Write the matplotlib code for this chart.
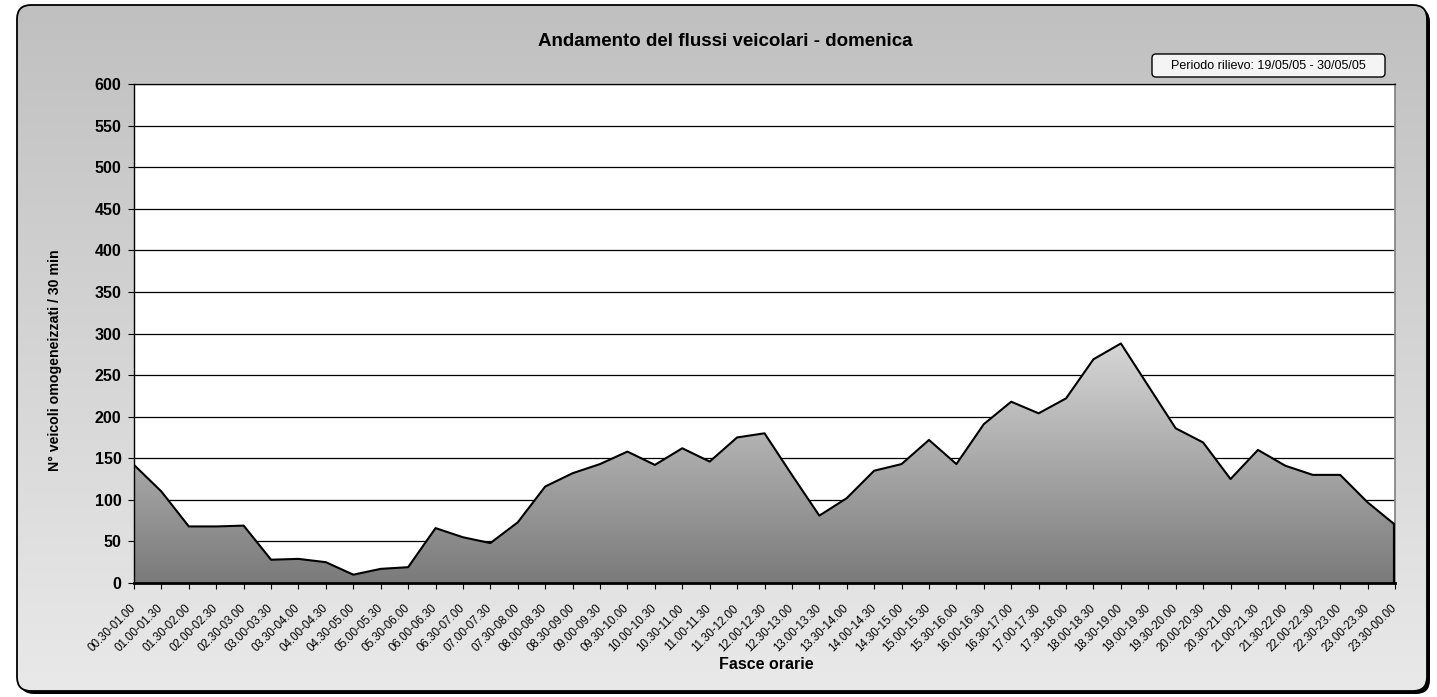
import numpy as np
import matplotlib
matplotlib.use("Agg")
import matplotlib.pyplot as plt
import matplotlib.transforms as mtransforms
from matplotlib.patches import FancyBboxPatch, Polygon
from matplotlib.colors import LinearSegmentedColormap

# data
fasce = ['00.30-01.00', '01.00-01.30', '01.30-02.00', '02.00-02.30', '02.30-03.00',
         '03.00-03.30', '03.30-04.00', '04.00-04.30', '04.30-05.00', '05.00-05.30',
         '05.30-06.00', '06.00-06.30', '06.30-07.00', '07.00-07.30', '07.30-08.00',
         '08.00-08.30', '08.30-09.00', '09.00-09.30', '09.30-10.00', '10.00-10.30',
         '10.30-11.00', '11.00-11.30', '11.30-12.00', '12.00-12.30', '12.30-13.00',
         '13.00-13.30', '13.30-14.00', '14.00-14.30', '14.30-15.00', '15.00-15.30',
         '15.30-16.00', '16.00-16.30', '16.30-17.00', '17.00-17.30', '17.30-18.00',
         '18.00-18.30', '18.30-19.00', '19.00-19.30', '19.30-20.00', '20.00-20.30',
         '20.30-21.00', '21.00-21.30', '21.30-22.00', '22.00-22.30', '22.30-23.00',
         '23.00-23.30', '23.30-00.00']
veicoli = [142, 110, 68, 68, 69, 28, 29, 25, 10, 17,
           19, 66, 55, 48, 73, 116, 132, 143, 158, 142,
           162, 146, 175, 180, 130, 81, 102, 135, 143, 172,
           143, 191, 218, 204, 222, 269, 288, 237, 186, 169,
           125, 160, 141, 130, 130, 97, 70]
y_ticks = list(range(0, 601, 50))
titolo = 'Andamento del flussi veicolari - domenica'
periodo = 'Periodo rilievo: 19/05/05 - 30/05/05'
totale = 'Traffico totale giornaliero\n5415 veicoli reali / g'

plt.rcParams['font.family'] = ['Liberation Sans', 'DejaVu Sans']

W, H = 1437, 697
fig = plt.figure(figsize=(W / 100, H / 100), dpi=100)
fig.patch.set_facecolor('white')

# background frame: shadow, gradient, border (pixel coords)
bg = fig.add_axes([0, 0, 1, 1], zorder=-10)
bg.set_xlim(0, W)
bg.set_ylim(H, 0)
bg.axis('off')
bg.add_patch(FancyBboxPatch((20, 8), 1410, 686, boxstyle='round,pad=0,rounding_size=14',
                            fc='black', ec='none'))
grad = np.linspace(0, 1, 256).reshape(-1, 1)
cm_bg = LinearSegmentedColormap.from_list('bg', ['#c0c0c0', '#e9e9e9'])
im = bg.imshow(grad, cmap=cm_bg, extent=[17, 1427, 691, 5], aspect='auto', zorder=2)
clip = FancyBboxPatch((17, 5), 1410, 686, boxstyle='round,pad=0,rounding_size=14',
                      fc='none', ec='none', transform=bg.transData)
bg.add_patch(clip)
im.set_clip_path(clip)
bg.add_patch(FancyBboxPatch((17, 5), 1410, 686, boxstyle='round,pad=0,rounding_size=14',
                            fc='none', ec='black', lw=1.3, zorder=3))

# main plot area
ax = fig.add_axes([134 / W, 1 - 583 / H, (1395 - 134) / W, (583 - 84) / H])
ax.set_facecolor('white')
x = np.arange(len(veicoli))
ax.set_xlim(0, len(veicoli) - 1)
ax.set_ylim(0, 600)

for t in y_ticks[1:]:
    ax.axhline(t, color='black', lw=0.9, zorder=1)

verts = [(0, 0)] + list(zip(x, veicoli)) + [(x[-1], 0)]
poly = Polygon(verts, closed=True, fc='none', ec='none')
ax.add_patch(poly)
cm_area = LinearSegmentedColormap.from_list('area', ['#7a7a7a', '#dadada'])
area = ax.imshow(np.linspace(0, 1, 256).reshape(-1, 1), cmap=cm_area, origin='lower',
                 extent=[0, x[-1], 0, 300], aspect='auto', zorder=2)
area.set_clip_path(poly)
ax.plot(x, veicoli, color='black', lw=1.5, zorder=3)
ax.plot([x[-1], x[-1]], [0, veicoli[-1]], color='black', lw=3, zorder=3)

ax.set_xticks(x)
ax.set_xticklabels(fasce, rotation=45, ha='right', va='center', rotation_mode='anchor',
                   fontsize=8.3)
shift = mtransforms.ScaledTranslation(-5 / 100, 0, fig.dpi_scale_trans)
for lab in ax.get_xticklabels():
    lab.set_transform(lab.get_transform() + shift)
ax.set_yticks(y_ticks)
ax.set_yticklabels([str(v) for v in y_ticks], fontsize=11.5, fontweight='bold')
ax.tick_params(axis='both', direction='out', length=4, width=0.8, color='black')
ax.tick_params(axis='x', pad=13)
ax.tick_params(axis='y', pad=5)
for s in ['left', 'top', 'bottom']:
    ax.spines[s].set_color('black')
ax.spines['left'].set_linewidth(1.0)
ax.spines['top'].set_linewidth(0.9)
ax.spines['bottom'].set_linewidth(2.0)
ax.spines['right'].set_color('#808080')
ax.spines['right'].set_linewidth(1.2)

ax.set_ylabel('N° veicoli omogeneizzati / 30 min', fontsize=10.2, fontweight='bold')
ax.yaxis.set_label_coords((62 - 134) / 1261, 1 - (360 - 84) / 499)
ax.set_xlabel('Fasce orarie', fontsize=11.5, fontweight='bold')
ax.xaxis.set_label_coords((766 - 134) / 1261, -(657 - 583) / 499)

fig.text(725 / W, 1 - 42 / H, titolo, ha='center', va='center', fontsize=13.5,
         fontweight='bold')

# period box
bg.add_patch(FancyBboxPatch((1152, 54), 233, 23, boxstyle='round,pad=0,rounding_size=4',
                            fc='#f4f4f4', ec='black', lw=1.0, zorder=5))
bg.text(1268, 66, periodo, ha='center', va='center', fontsize=9, zorder=6)

# total box
bg.add_patch(FancyBboxPatch((1066, 195), 228, 52, boxstyle='round,pad=0,rounding_size=8',
                            fc='black', ec='black', zorder=5))
bg.text(1180, 222, totale, ha='center', va='center', fontsize=11.2, fontweight='bold',
        color='white', zorder=6, linespacing=1.25)

fig.savefig('out.png', dpi=100)
